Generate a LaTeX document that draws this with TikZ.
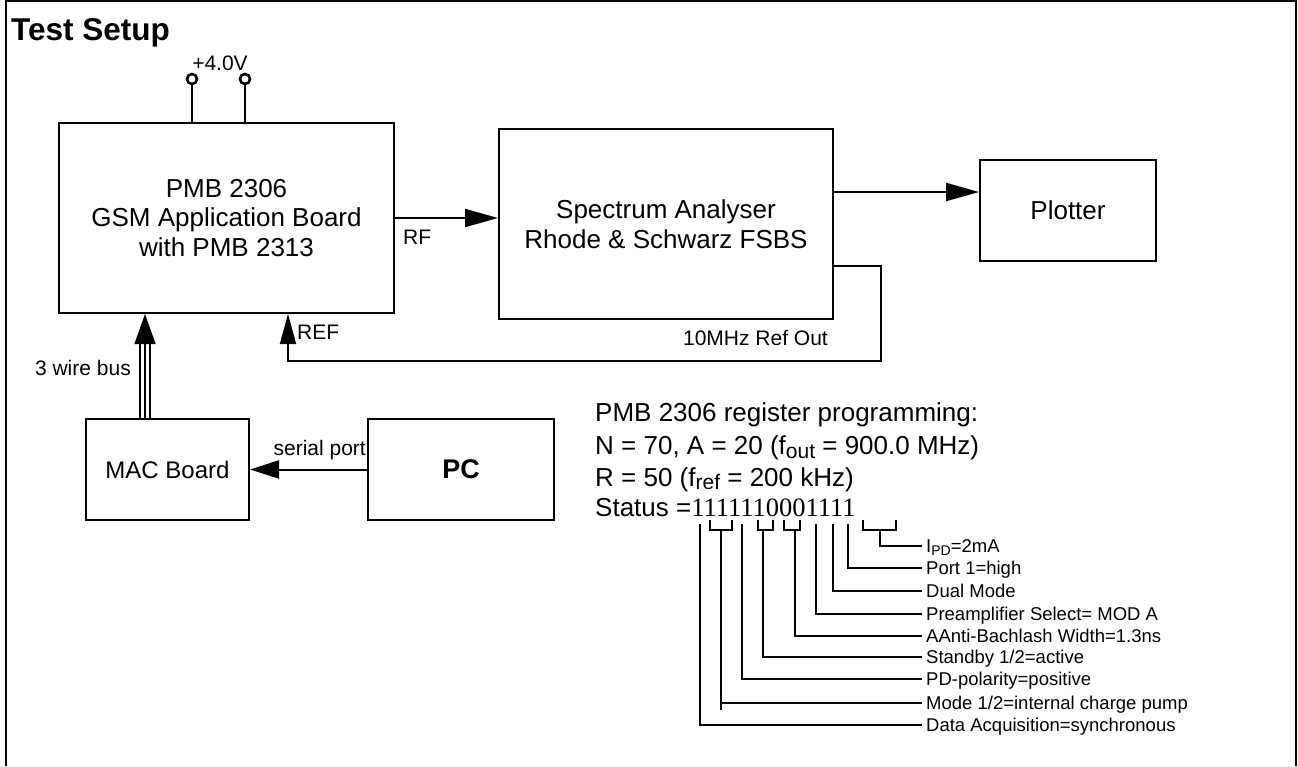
\documentclass[tikz,border=0pt]{standalone}
\usepackage{fontspec}
\setmainfont{Liberation Sans}
\newfontfamily\digfont{Liberation Serif}
\usetikzlibrary{arrows.meta}
\newcommand\fsz[2]{\fontsize{#1}{#2}\selectfont}
\begin{document}
\begin{tikzpicture}[x=1pt,y=-1pt,
  box/.style={draw, line width=2pt, inner sep=0pt, align=center, anchor=north west},
  arr/.style={line width=2pt, -{Triangle[length=33pt,width=18pt]}},
  wire/.style={line width=2pt},
  brk/.style={line width=1.8pt},
  thinwire/.style={line width=1.4pt},
  pinc/.style={circle, draw, line width=2.6pt, minimum size=10pt, inner sep=0pt},
  lbl/.style={inner sep=0pt, font=\fsz{21}{25}},
  reglbl/.style={inner sep=0pt, anchor=base west, font=\fsz{18.5}{22}},
  regtxt/.style={inner sep=0pt, anchor=base west, font=\fsz{26}{30}},
]
\useasboundingbox (0,0) rectangle (1298,766);
\draw[line width=2.2pt] (6,766) -- (6,1) -- (1296,1) -- (1296,766);
\node[anchor=base west, inner sep=0pt, font=\bfseries\fsz{31.5}{36}] (title) at (11,40) {Test Setup};

% boxes
\node[box, minimum width=335pt, minimum height=190pt, font=\fsz{26}{29.5}] (gsm) at (58,122) {PMB 2306\\GSM Application Board\\with PMB 2313};
\node[box, minimum width=334pt, minimum height=190pt, font=\fsz{26}{30}] (sa) at (498,128) {Spectrum Analyser\\Rhode \& Schwarz FSBS};
\node[box, minimum width=176pt, minimum height=101pt, font=\fsz{26}{30}] (plot) at (979,159) {Plotter};
\node[box, minimum width=163pt, minimum height=101pt, font=\fsz{24}{28}] (mac) at (85,418) {MAC Board};
\node[box, minimum width=186pt, minimum height=101pt, font=\bfseries\fsz{27}{30}] (pc) at (367,418) {PC};

% supply pins
\node[pinc] (p1) at (192,79) {};
\node[pinc] (p2) at (245,79) {};
\draw[wire] (p1) -- (p1 |- gsm.north);
\draw[wire] (p2) -- (p2 |- gsm.north);
\node[lbl, anchor=base] (vlbl) at (220,70.5) {+4.0V};

% connectors
\draw[arr] (gsm.east) -- (gsm.east -| sa.west);
\draw[arr] ([yshift=32pt]sa.east) -- ([yshift=32pt]sa.east -| plot.west);
\draw[line width=2pt, -{Triangle[length=30pt,width=16pt]}] ([yshift=-42pt]sa.east) -| ++(47,95) -| ([xshift=61.5pt]gsm.south);
\draw[line width=1.4pt, -{Triangle[length=30pt,width=21pt]}] ([xshift=-22.5pt]mac.north) -- ([xshift=-22.5pt]mac.north |- gsm.south);
\draw[thinwire] ([xshift=-27.5pt]mac.north) -- ++(0,-75);
\draw[thinwire] ([xshift=-17.5pt]mac.north) -- ++(0,-75);
\draw[line width=2pt, -{Triangle[length=29pt,width=18pt]}] (pc.west) -- (mac.east);

% connector labels
\node[lbl, anchor=base west] (rf) at (403,244.5) {RF};
\node[lbl, anchor=base west] (ref) at (297,339.5) {REF};
\node[lbl, anchor=base east] (ten) at (828,345.5) {10MHz Ref Out};
\node[lbl, anchor=base east] (bus) at (131,375.5) {3 wire bus};
\node[lbl, anchor=base east] (ser) at (366,455.5) {serial port};

% register programming
\node[regtxt] (r1) at (595,421) {PMB 2306 register programming:};
\node[regtxt] (r2) at (595,454) {N = 70, A = 20 (f\raisebox{-4pt}{\fsz{21}{21}out} = 900.0 MHz)};
\node[regtxt] (r3) at (595,486) {R = 50 (f\raisebox{-3.5pt}{\fsz{21}{21}ref} = 200 kHz)};
\node[regtxt] (r4) at (595,516) {Status =\digfont\fsz{26.5}{30}1111110001111};

% bit brackets
\draw[brk] (863,520) -- (863,530) -- (896,530) -- (896,520);
\draw[brk] (880,530) |- (922,546);
\draw[brk] (848,524) |- (922,568);
\draw[brk] (833,524) |- (922,591);
\draw[brk] (816,524) |- (922,614);
\draw[brk] (784,520) -- (784,530) -- (800,530) -- (800,520);
\draw[brk] (795,530) |- (922,636);
\draw[brk] (758,520) -- (758,530) -- (773,530) -- (773,520);
\draw[brk] (763,530) |- (922,657);
\draw[brk] (742,524) |- (922,679);
\draw[brk] (710,520) -- (710,530) -- (732,530) -- (732,520);
\draw[brk] (721,530) -- (721,710);
\draw[brk] (721,703) -- (922,703);
\draw[brk] (700,524) |- (922,725);

\node[reglbl] (b1) at (926,552.6) {I\raisebox{-3pt}{\fsz{14}{14}PD}=2mA};
\node[reglbl] (b2) at (926,574.6) {Port 1=high};
\node[reglbl] (b3) at (926,597.6) {Dual Mode};
\node[reglbl] (b4) at (926,620.6) {Preamplifier Select= MOD A};
\node[reglbl] (b5) at (926,642.6) {AAnti-Bachlash Width=1.3ns};
\node[reglbl] (b6) at (926,663.6) {Standby 1/2=active};
\node[reglbl] (b7) at (926,685.6) {PD-polarity=positive};
\node[reglbl] (b8) at (926,709.6) {Mode 1/2=internal charge pump};
\node[reglbl] (b9) at (926,731.6) {Data Acquisition=synchronous};
\end{tikzpicture}
\end{document}
